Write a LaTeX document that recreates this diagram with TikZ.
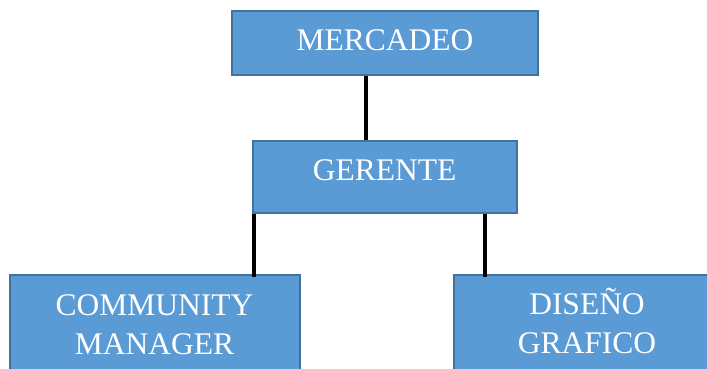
\documentclass[tikz,border=0pt]{standalone}
\usepackage{fontspec}
\setmainfont{Liberation Serif}
\definecolor{boxfill}{HTML}{5B9BD5}
\definecolor{boxline}{HTML}{41719C}
\begin{document}
\begin{tikzpicture}[x=1pt,y=-1pt,
  box/.style={draw=boxline,fill=boxfill,line width=1.5pt,rectangle,inner sep=0pt},
  lbl/.style={text=white,font=\fontsize{31.5}{39}\selectfont,align=center,inner sep=0pt,anchor=base},
  conn/.style={draw=black,line width=4pt}]
\useasboundingbox (0,0) rectangle (707,369);
\begin{scope}
\clip (0,0) rectangle (707,369);
\node[box,minimum width=306pt,minimum height=64pt] (merc) at (385,43) {};
\node[box,minimum width=264pt,minimum height=72pt] (ger) at (385,177) {};
\node[box,minimum width=290pt,minimum height=125pt] (comm) at (155,337.5) {};
\node[box,minimum width=264pt,minimum height=125pt] (dis) at (586,337.5) {};
\node[lbl] (tmerc) at (385,50.7) {MERCADEO};
\node[lbl] (tger) at (384.5,180.7) {GERENTE};
\node[lbl] (tcomm) at (154.5,354) {COMMUNITY\\MANAGER};
\node[lbl] (tdis) at (587,353.5) {DISEÑO\\GRAFICO};
\coordinate (mx) at ([xshift=-19pt]merc.south);
\coordinate (gl) at ([xshift=2pt]ger.south west);
\coordinate (gr) at ([xshift=-33pt]ger.south east);
\draw[conn] (mx) -- (mx |- ger.north);
\draw[conn,shorten >=-3pt] (gl) -- (gl |- comm.north);
\draw[conn,shorten >=-3pt] (gr) -- (gr |- dis.north);
\end{scope}
\end{tikzpicture}
\end{document}
